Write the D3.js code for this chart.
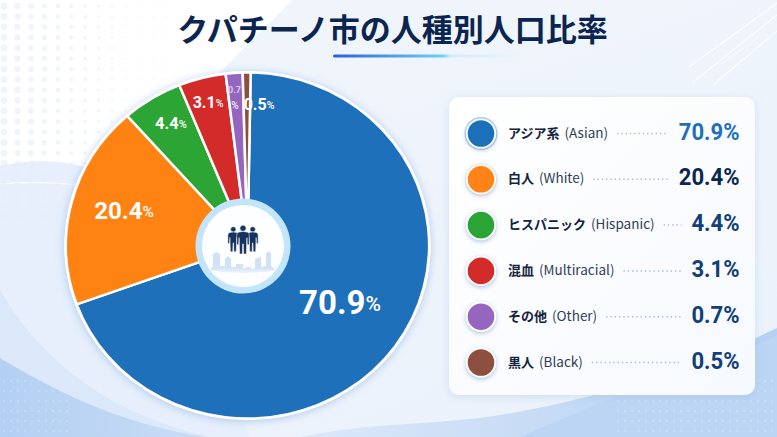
<!DOCTYPE html>
<html>
  <head>
    <meta charset="UTF-8" />
    <title>クパチーノ市の人種別人口比率</title>
    <script src="https://d3js.org/d3.v7.min.js"></script>
    <style>
      html, body { margin: 0; padding: 0; background: #fff; overflow: hidden; }
      svg { display: block; }
      text { font-family: "Noto Sans CJK JP", "Noto Sans", sans-serif; }
      .num { font-family: Roboto, "Noto Sans", sans-serif; }
    </style>
  </head>
  <body>
    <div id="chart"></div>
    <script>
      // Data
      var categories = ["アジア系", "白人", "ヒスパニック", "混血", "その他", "黒人"];
      var categoriesEn = ["(Asian)", "(White)", "(Hispanic)", "(Multiracial)", "(Other)", "(Black)"];
      var values = [70.9, 20.4, 4.4, 3.1, 0.7, 0.5];
      // the wedges in the picture are not quite to scale, these are their measured sizes
      var sliceShares = [69.2, 19.0, 5.4, 4.2, 1.5, 0.7];
      var colors = ["#1f70ba", "#ff8312", "#2ca534", "#d32a2a", "#9565c0", "#8c5040"];
      var valueColors = ["#1f70ba", "#0c2752", "#123f78", "#123f78", "#123f78", "#123f78"];
      var titleText = "クパチーノ市の人種別人口比率";

      var width = 777, height = 437;
      var svg = d3.select("#chart").append("svg").attr("width", width).attr("height", height);
      var defs = svg.append("defs");

      // Background
      svg.append("rect").attr("width", width).attr("height", height).attr("fill", "#ffffff");
      var bg = defs.append("linearGradient").attr("id", "bg")
        .attr("x1", 0).attr("y1", 0).attr("x2", 0.6).attr("y2", 1);
      bg.append("stop").attr("offset", "0%").attr("stop-color", "#f1f6fc");
      bg.append("stop").attr("offset", "100%").attr("stop-color", "#ecf2fb");
      svg.append("path").attr("d", "M292,0 C250,45 190,90 150,175 L0,165 L0,437 L777,437 L777,0 Z").attr("fill", "url(#bg)");

      // left band with its white line
      svg.append("path").attr("d", "M0,166 C35,158 70,160 100,172 L200,300 L250,437 L0,437 Z").attr("fill", "#e6effb");
      svg.append("path").attr("d", "M0,184 C25,182 55,182 85,186").attr("fill", "none")
        .attr("stroke", "#fff").attr("stroke-width", 1.2);

      // waves at the bottom
      var waveL = defs.append("linearGradient").attr("id", "waveL")
        .attr("x1", 0).attr("y1", 0).attr("x2", 1).attr("y2", 0);
      waveL.append("stop").attr("offset", "0%").attr("stop-color", "#b3cff2");
      waveL.append("stop").attr("offset", "100%").attr("stop-color", "#c9ddf6");
      var waveR = defs.append("linearGradient").attr("id", "waveR")
        .attr("x1", 0).attr("y1", 0).attr("x2", 1).attr("y2", 0);
      waveR.append("stop").attr("offset", "0%").attr("stop-color", "#dbe8f9");
      waveR.append("stop").attr("offset", "100%").attr("stop-color", "#b4cff2");
      svg.append("path").attr("d", "M0,290 C40,360 110,415 210,437 L0,437 Z").attr("fill", "#dbe8fa");
      svg.append("path").attr("d", "M0,358 C70,400 130,425 205,437 L0,437 Z").attr("fill", "url(#waveL)");
      svg.append("path").attr("d", "M300,437 C370,422 440,425 500,415 C590,400 690,370 777,328 L777,437 Z").attr("fill", "url(#waveR)");
      svg.append("path").attr("d", "M520,437 C560,420 590,405 625,395 C680,385 730,360 777,335 L777,437 Z").attr("fill", "#bcd5f4");

      // dot textures
      d3.range(0, 13).forEach(function (ix) {
        d3.range(0, 21).forEach(function (iy) {
          svg.append("circle")
            .attr("cx", 4 + ix * 13.5).attr("cy", 6 + iy * 10.5)
            .attr("r", Math.max(0.8, 3.4 - ix * 0.26))
            .attr("fill", "#e6eef8").attr("opacity", 0.6);
        });
      });
      d3.range(0, 10).forEach(function (ix) {
        d3.range(0, 6).forEach(function (iy) {
          svg.append("circle").attr("cx", 4 + ix * 7).attr("cy", 381 + iy * 10)
            .attr("r", 0.8).attr("fill", "#ddeafa").attr("opacity", 0.8);
        });
      });
      d3.range(0, 24).forEach(function (ix) {
        d3.range(0, 6).forEach(function (iy) {
          svg.append("circle").attr("cx", 618 + ix * 7).attr("cy", 381 + iy * 10)
            .attr("r", 0.8).attr("fill", "#e2edfb").attr("opacity", 0.8);
        });
      });

      // thin streaks top right
      [[689, 67, 777, 3, 0.95], [692, 83, 777, 15, 0.85], [713, 85, 777, 31, 0.85], [722, 63, 760, 36, 0.4]].forEach(function (s) {
        svg.append("line").attr("x1", s[0]).attr("y1", s[1]).attr("x2", s[2]).attr("y2", s[3])
          .attr("stroke", "#ffffff").attr("stroke-width", 1.2).attr("opacity", s[4]);
      });

      // Title
      svg.append("text").attr("x", 392.5).attr("y", 41).attr("text-anchor", "middle")
        .attr("font-size", 31).attr("font-weight", 700).attr("fill", "#0b2550")
        .text(titleText);

      var ul = defs.append("linearGradient").attr("id", "underline")
        .attr("x1", 0).attr("y1", 0).attr("x2", 1).attr("y2", 0);
      ul.append("stop").attr("offset", "0%").attr("stop-color", "#2b5fd9");
      ul.append("stop").attr("offset", "58%").attr("stop-color", "#6fd0f5");
      ul.append("stop").attr("offset", "62%").attr("stop-color", "#d5ecfa");
      ul.append("stop").attr("offset", "100%").attr("stop-color", "#eef5fb");
      svg.append("rect").attr("x", 333).attr("y", 54.5).attr("width", 190).attr("height", 3)
        .attr("rx", 1.5).attr("fill", "url(#underline)");

      // Pie
      var shadow = defs.append("filter").attr("id", "pieShadow")
        .attr("x", "-10%").attr("y", "-10%").attr("width", "120%").attr("height", "120%");
      shadow.append("feDropShadow").attr("dx", 0).attr("dy", 1).attr("stdDeviation", 4)
        .attr("flood-color", "#6f9ede").attr("flood-opacity", 0.5);

      var radius = 173;
      var pieG = svg.append("g").attr("transform", "translate(247.5,245.5) scale(1.05,1)");
      var startAngle = 1 * Math.PI / 180;
      var pie = d3.pie().sort(null).startAngle(startAngle).endAngle(startAngle + 2 * Math.PI);
      var arcs = pie(sliceShares);
      var arc = d3.arc().innerRadius(0).outerRadius(radius);

      pieG.append("circle").attr("r", radius + 1.5).attr("fill", "#fff").attr("filter", "url(#pieShadow)");
      pieG.selectAll(".slice").data(arcs).enter().append("path")
        .attr("class", "slice")
        .attr("d", arc)
        .attr("fill", function (d, i) { return colors[i]; })
        .attr("stroke", "#fff").attr("stroke-width", 2.4);

      // Labels inside the pie
      var labelPos = [[340, 305, 33, 21], [124, 213, 24, 15.5], [171, 125, 16.5, 11], [208, 104, 16, 10.5], [259, 106, 16, 10.5]];
      var labelIdx = [0, 1, 2, 3, 5];
      labelIdx.forEach(function (k, j) {
        var p = labelPos[j];
        var t = svg.append("text").attr("class", "num").attr("x", p[0]).attr("y", p[1]).attr("text-anchor", "middle")
          .attr("dominant-baseline", "middle").attr("fill", "#fff").attr("font-weight", 700)
          .attr("font-size", p[2]);
        t.append("tspan").text(values[k].toFixed(1));
        t.append("tspan").attr("font-size", p[3]).attr("font-weight", 500).text("%");
      });
      // squeezed label of the thin purple wedge
      svg.append("text").attr("class", "num").attr("x", 234.5).attr("y", 91).attr("text-anchor", "middle")
        .attr("dominant-baseline", "middle").attr("fill", "#d9c9ee").attr("font-weight", 700)
        .attr("font-size", 9).text(values[4].toFixed(1));
      svg.append("text").attr("class", "num").attr("x", 235).attr("y", 106).attr("text-anchor", "middle")
        .attr("dominant-baseline", "middle").attr("fill", "#f3ecfa").attr("font-weight", 500)
        .attr("font-size", 10).text("%");

      // Center badge
      var cg = svg.append("g").attr("transform", "translate(243,246)");
      cg.append("circle").attr("r", 47.5).attr("fill", "#c3e5f9");
      cg.append("circle").attr("r", 41).attr("fill", "#fdfeff");

      // skyline, fades out at the bottom
      var skyFade = defs.append("linearGradient").attr("id", "skyFade")
        .attr("x1", 0).attr("y1", 0).attr("x2", 0).attr("y2", 1);
      skyFade.append("stop").attr("offset", "0%").attr("stop-color", "#cfdff5");
      skyFade.append("stop").attr("offset", "75%").attr("stop-color", "#d3e2f6");
      skyFade.append("stop").attr("offset", "100%").attr("stop-color", "#f0f5fc");
      cg.append("path")
        .attr("d", "M-33,24 L-30,20 L-30,8 L-27,6 L-23,8 L-23,20 L-18,20 L-18,13 L-15,10 L-12,13 L-12,21 L-7,21 L-7,18 L0,18 L0,22 L3,22 L3,21 L8,21 L8,23 L12,22 L12,13 L18,11 L18,21 L23,20 L23,8 L25.5,5 L28,8 L28,20 L33,24 C15,28 -15,28 -33,24 Z")
        .attr("fill", "url(#skyFade)");

      // people icon
      var navy = "#16335f";
      function person(g, x, y, s) {
        var p = g.append("g").attr("transform", "translate(" + x + "," + y + ") scale(" + s + ")")
          .attr("fill", navy).attr("stroke", "#fdfeff").attr("stroke-width", 0.7);
        p.append("circle").attr("cx", 0).attr("cy", -19).attr("r", 3.9);
        p.append("path").attr("d", "M-6,-14 Q0,-16 6,-14 Q8,-13 8,-10 L8,2 L5.5,2 L5,-7 L4.3,14 L0.8,14 L0.4,1 L-0.4,1 L-0.8,14 L-4.3,14 L-5,-7 L-5.5,2 L-8,2 L-8,-10 Q-8,-13 -6,-14 Z");
      }
      person(cg, -9.7, -3.8, 0.68);
      person(cg, 9.7, -3.8, 0.68);
      person(cg, 0, -2.9, 0.78);

      // Legend panel
      var cardShadow = defs.append("filter").attr("id", "cardShadow")
        .attr("x", "-10%").attr("y", "-10%").attr("width", "120%").attr("height", "120%");
      cardShadow.append("feDropShadow").attr("dx", 0).attr("dy", 2).attr("stdDeviation", 5)
        .attr("flood-color", "#8fb0dc").attr("flood-opacity", 0.3);
      var card = defs.append("linearGradient").attr("id", "card")
        .attr("x1", 0).attr("y1", 0).attr("x2", 1).attr("y2", 1);
      card.append("stop").attr("offset", "0%").attr("stop-color", "#ffffff");
      card.append("stop").attr("offset", "100%").attr("stop-color", "#f6f9fe");
      svg.append("rect").attr("x", 449).attr("y", 97).attr("width", 306).attr("height", 298)
        .attr("rx", 10).attr("fill", "url(#card)").attr("filter", "url(#cardShadow)");

      var rowY = d3.scalePoint().domain(d3.range(categories.length)).range([133.5, 362.5]);
      var dotShadow = defs.append("filter").attr("id", "dotShadow")
        .attr("x", "-40%").attr("y", "-40%").attr("width", "180%").attr("height", "180%");
      dotShadow.append("feDropShadow").attr("dx", 0).attr("dy", 1.5).attr("stdDeviation", 2)
        .attr("flood-color", "#7d9ccc").attr("flood-opacity", 0.6);

      var valueSx = 0.96;
      categories.forEach(function (c, i) {
        var y = rowY(i);
        var row = svg.append("g").attr("transform", "translate(0," + y + ")");
        if (i === 0) {
          row.append("circle").attr("cx", 481).attr("r", 16.5).attr("fill", "#a9d2f3");
        }
        if (i === 1) {
          row.append("circle").attr("cx", 481).attr("r", 15.5).attr("fill", "#ffd9b5");
        }
        row.append("circle").attr("cx", 481).attr("r", 14.2).attr("fill", colors[i])
          .attr("stroke", "#fff").attr("stroke-width", 1.8).attr("filter", "url(#dotShadow)");

        var label = row.append("text").attr("x", 508).attr("y", 0)
          .attr("dominant-baseline", "middle").attr("font-size", 13);
        label.append("tspan").attr("font-weight", 700).attr("fill", "#14233d").text(c);
        label.append("tspan").attr("dx", 5).attr("font-size", 13.5).attr("fill", "#2f3f57").text(categoriesEn[i]);

        var val = row.append("text").attr("class", "num")
          .attr("transform", "translate(739.5,0) scale(" + valueSx + ",1)").attr("text-anchor", "end")
          .attr("dominant-baseline", "middle").attr("font-size", 23).attr("font-weight", 700)
          .attr("fill", valueColors[i]).text(values[i].toFixed(1) + "%");

        var labelBox = label.node().getBBox();
        var valStart = 739.5 - val.node().getBBox().width * valueSx;
        row.append("line")
          .attr("x1", labelBox.x + labelBox.width + 9).attr("x2", valStart - 10)
          .attr("stroke", "#9dbce0").attr("stroke-width", 1.5)
          .attr("stroke-dasharray", "1.3 3");
      });
    </script>
  </body>
</html>
